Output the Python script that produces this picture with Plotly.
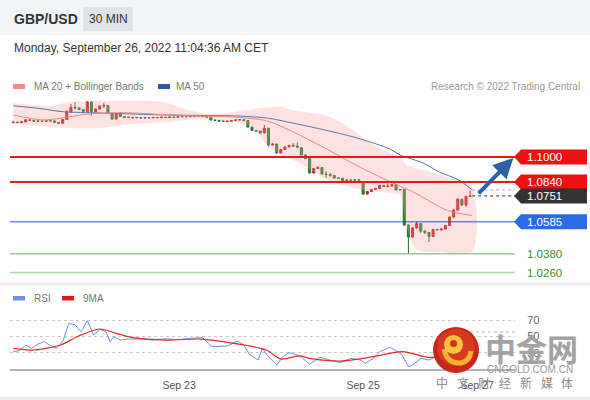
import plotly.graph_objects as go

W, H = 590, 400

# GBP/USD 30 min bars, index 0..111
opens = [1.1221, 1.1223, 1.1220, 1.1225, 1.1238, 1.1235, 1.1229, 1.1230, 1.1228, 1.1233,
         1.1231, 1.1221, 1.1216, 1.1240, 1.1288, 1.1317, 1.1314, 1.1304, 1.1291, 1.1352,
         1.1291, 1.1307, 1.1326, 1.1330, 1.1278, 1.1243, 1.1278, 1.1259, 1.1253, 1.1254,
         1.1251, 1.1253, 1.1250, 1.1252, 1.1251, 1.1253, 1.1252, 1.1255, 1.1253, 1.1256,
         1.1254, 1.1257, 1.1259, 1.1258, 1.1261, 1.1262, 1.1264, 1.1261, 1.1256, 1.1237,
         1.1234, 1.1230, 1.1227, 1.1229, 1.1234, 1.1237, 1.1239, 1.1233, 1.1192, 1.1170,
         1.1166, 1.1154, 1.1184, 1.1077, 1.1083, 1.1026, 1.1048, 1.1064, 1.1074, 1.1070,
         1.1061, 1.1013, 1.0990, 1.0898, 1.0926, 1.0933, 1.0891, 1.0888, 1.0882, 1.0866,
         1.0864, 1.0850, 1.0853, 1.0851, 1.0854, 1.0840, 1.0763, 1.0779, 1.0792, 1.0798,
         1.0818, 1.0811, 1.0814, 1.0824, 1.0789, 1.0792, 1.0565, 1.0488, 1.0546, 1.0574,
         1.0526, 1.0517, 1.0491, 1.0536, 1.0533, 1.0539, 1.0562, 1.0616, 1.0660, 1.0730,
         1.0693, 1.0748]
highs = [1.1227, 1.1226, 1.1228, 1.1243, 1.1241, 1.1238, 1.1233, 1.1233, 1.1236, 1.1235,
         1.1234, 1.1224, 1.1243, 1.1301, 1.1339, 1.1352, 1.1318, 1.1307, 1.1358, 1.1356,
         1.1311, 1.1330, 1.1346, 1.1333, 1.1281, 1.1283, 1.1288, 1.1262, 1.1257, 1.1257,
         1.1256, 1.1255, 1.1255, 1.1254, 1.1256, 1.1255, 1.1258, 1.1257, 1.1259, 1.1258,
         1.1260, 1.1262, 1.1261, 1.1264, 1.1265, 1.1267, 1.1266, 1.1263, 1.1258, 1.1239,
         1.1236, 1.1233, 1.1232, 1.1236, 1.1240, 1.1242, 1.1241, 1.1236, 1.1195, 1.1172,
         1.1168, 1.1205, 1.1187, 1.1088, 1.1086, 1.1052, 1.1067, 1.1078, 1.1090, 1.1093,
         1.1064, 1.1016, 1.0993, 1.0930, 1.0942, 1.0936, 1.0910, 1.0897, 1.0884, 1.0868,
         1.0866, 1.0856, 1.0855, 1.0857, 1.0856, 1.0843, 1.0782, 1.0796, 1.0803, 1.0822,
         1.0821, 1.0830, 1.0827, 1.0827, 1.0795, 1.0795, 1.0569, 1.0550, 1.0590, 1.0577,
         1.0530, 1.0520, 1.0540, 1.0540, 1.0542, 1.0565, 1.0620, 1.0668, 1.0738, 1.0733,
         1.0752, 1.0786]
lows = [1.1216, 1.1217, 1.1218, 1.1221, 1.1232, 1.1226, 1.1227, 1.1225, 1.1226, 1.1228,
        1.1218, 1.1213, 1.1213, 1.1237, 1.1284, 1.1307, 1.1300, 1.1287, 1.1288, 1.1266,
        1.1286, 1.1304, 1.1314, 1.1275, 1.1238, 1.1240, 1.1255, 1.1250, 1.1250, 1.1248,
        1.1249, 1.1247, 1.1248, 1.1248, 1.1249, 1.1249, 1.1250, 1.1251, 1.1251, 1.1252,
        1.1252, 1.1255, 1.1255, 1.1256, 1.1259, 1.1260, 1.1259, 1.1253, 1.1234, 1.1231,
        1.1228, 1.1224, 1.1225, 1.1227, 1.1232, 1.1235, 1.1231, 1.1189, 1.1166, 1.1162,
        1.1150, 1.1151, 1.1067, 1.1074, 1.1022, 1.1023, 1.1045, 1.1061, 1.1066, 1.1055,
        1.1010, 1.0986, 1.0894, 1.0895, 1.0923, 1.0888, 1.0866, 1.0872, 1.0862, 1.0860,
        1.0847, 1.0848, 1.0848, 1.0850, 1.0847, 1.0757, 1.0760, 1.0776, 1.0789, 1.0795,
        1.0808, 1.0806, 1.0811, 1.0786, 1.0787, 1.0558, 1.0382, 1.0485, 1.0542, 1.0514,
        1.0507, 1.0456, 1.0488, 1.0530, 1.0530, 1.0536, 1.0559, 1.0610, 1.0655, 1.0688,
        1.0680, 1.0745]
closes = [1.1223, 1.1220, 1.1225, 1.1238, 1.1235, 1.1229, 1.1230, 1.1228, 1.1233, 1.1231,
          1.1221, 1.1216, 1.1240, 1.1288, 1.1317, 1.1314, 1.1304, 1.1291, 1.1352, 1.1291,
          1.1307, 1.1326, 1.1330, 1.1278, 1.1243, 1.1278, 1.1259, 1.1253, 1.1254, 1.1251,
          1.1253, 1.1250, 1.1252, 1.1251, 1.1253, 1.1252, 1.1255, 1.1253, 1.1256, 1.1254,
          1.1257, 1.1259, 1.1258, 1.1261, 1.1262, 1.1264, 1.1261, 1.1256, 1.1237, 1.1234,
          1.1230, 1.1227, 1.1229, 1.1234, 1.1237, 1.1239, 1.1233, 1.1192, 1.1170, 1.1166,
          1.1154, 1.1184, 1.1077, 1.1083, 1.1026, 1.1048, 1.1064, 1.1074, 1.1070, 1.1064,
          1.1013, 1.0990, 1.0898, 1.0926, 1.0933, 1.0891, 1.0888, 1.0882, 1.0866, 1.0864,
          1.0850, 1.0853, 1.0851, 1.0854, 1.0850, 1.0763, 1.0779, 1.0792, 1.0798, 1.0818,
          1.0811, 1.0814, 1.0824, 1.0789, 1.0792, 1.0565, 1.0488, 1.0546, 1.0574, 1.0526,
          1.0517, 1.0491, 1.0536, 1.0533, 1.0539, 1.0562, 1.0616, 1.0660, 1.0730, 1.0693,
          1.0748, 1.0751]
bars = list(range(len(closes)))

# moving averages and bands, read at sample positions (bar index)
ma50_idx = [0, 6.5, 12, 21, 33, 45, 55, 62, 67, 75, 83.5, 91.5, 94, 99.5, 103.5, 108, 111.5]
ma50_val = [1.1328, 1.1310, 1.1290, 1.1282, 1.1272, 1.1266, 1.1262, 1.1248, 1.1222, 1.1177,
            1.1122, 1.1051, 1.1013, 1.0962, 1.0904, 1.0856, 1.0789]
ma20_idx = [0, 7, 12, 18, 23.5, 29, 37.5, 45.5, 53.5, 61.5, 67.5, 75.5, 83.5, 91.5, 97, 105.5, 111.5]
ma20_val = [1.1269, 1.1237, 1.1250, 1.1275, 1.1282, 1.1282, 1.1269, 1.1262, 1.1256, 1.1232,
            1.1167, 1.1060, 1.0945, 1.0842, 1.0778, 1.0658, 1.0626]
bb_up_idx = [0, 5, 9.5, 13, 21, 33, 37.5, 41, 45.5, 50, 55, 60, 65.5, 67.5, 75.5, 79.5, 83.5,
             87.5, 91.5, 94, 95.5, 99.5, 103.5, 108, 111.5]
bb_up = [1.1344, 1.1333, 1.1326, 1.1349, 1.1358, 1.1358, 1.1346, 1.1314, 1.1282, 1.1275,
         1.1294, 1.1314, 1.1320, 1.1301, 1.1269, 1.1224, 1.1154, 1.1077, 1.1026, 1.1000,
         1.0950, 1.0917, 1.0885, 1.0853, 1.0808]
bb_lo_idx = [0, 6.5, 13, 21, 29, 37.5, 45.5, 53.5, 57.5, 63, 69.5, 77.5, 85, 91.5, 94, 95.5,
             98, 103.5, 111.5]
bb_lo = [1.1211, 1.1198, 1.1186, 1.1186, 1.1211, 1.1224, 1.1243, 1.1224, 1.1198, 1.1045,
         1.0962, 1.0840, 1.0789, 1.0770, 1.0757, 1.0565, 1.0405, 1.0392, 1.0392]

# RSI panel
rsi_idx = [0, 1.5, 3, 4.5, 6, 7.5, 9.5, 10.5, 12, 13.5, 15, 16.5, 18, 19.5, 21, 22.5, 23.5,
           24.5, 26, 27.5, 31, 34, 37, 40, 43, 46, 48, 49.5, 52, 54.5, 56, 57.5, 59.5, 60.5,
           62, 64, 65.5, 67, 69, 70, 72, 74.5, 77, 79.5, 82, 84.5, 85.5, 87.5, 89, 91.5,
           93.5, 94.5, 96, 97, 99, 101, 103, 105, 107, 109, 111]
rsi_val = [31.2, 32.4, 39.4, 35.4, 40.6, 43.5, 37.3, 35.4, 43.5, 66, 63.9, 55.7, 69.1, 51.7,
           58.6, 55.7, 43.5, 49.6, 45.5, 46.4, 47, 45.5, 47, 46, 47.5, 48.5, 38.2, 37.6, 38.2,
           44.3, 39.4, 27.2, 21.1, 35.4, 25.1, 15, 25.1, 30, 27.2, 24.4, 16.2, 24.4, 21, 17.8,
           23.1, 21, 17, 23.1, 31.2, 36.6, 31.2, 27.2, 12.9, 15, 23.1, 21, 26, 33, 42, 50, 55.3]
ma9_idx = [0, 5, 11.5, 15.5, 21, 25, 29, 37.5, 45.5, 53.5, 61.5, 65, 69.5, 72, 79.5, 87.5,
           94.5, 101, 106, 111]
ma9_val = [35.4, 33.3, 39.4, 49.6, 59, 53.7, 48.4, 45.5, 46.7, 41.5, 33.3, 22.3, 26, 23.1,
           19.8, 25.1, 31.2, 24.4, 28, 38]
rsi_ticks = [30, 50, 70]

date_ticks = [40.3, 85.0, 112.7]
date_labels = ['Sep 23', 'Sep 25', 'Sep 27']

# key levels on the right
levels = [1.1000, 1.0840, 1.0751, 1.0585, 1.0380, 1.0260]
level_box = ['#ee1111', '#ee1111', '#333333', '#2b6ce6', None, None]
level_line = ['#e8191b', '#e8191b', None, '#2452c4', '#6aab6a', '#a9dca9']
level_width = [2, 2, 0, 1, 1, 1.5]
arrow_from = (112.7, 1.0757)
arrow_to = (121.5, 1.0994)


def px(x):
    return x / W


def py(y):
    return 1 - y / H


FONT = 'Liberation Sans, Arial, sans-serif'
CJK = 'Noto Sans CJK SC'

fig = go.Figure()

fig.add_trace(go.Scatter(
    x=bb_up_idx + bb_lo_idx[::-1], y=bb_up + bb_lo[::-1],
    fill='toself', fillcolor='rgba(248,160,160,0.3)', mode='lines',
    line=dict(width=0, shape='spline', smoothing=0.8), hoverinfo='skip'))
fig.add_trace(go.Scatter(x=ma50_idx, y=ma50_val, mode='lines',
                         line=dict(color='#5a74ad', width=1, shape='spline', smoothing=0.8)))
fig.add_trace(go.Scatter(x=ma20_idx, y=ma20_val, mode='lines',
                         line=dict(color='#f08585', width=1, shape='spline', smoothing=0.8)))
fig.add_trace(go.Candlestick(
    x=bars, open=opens, high=highs, low=lows, close=closes,
    increasing=dict(fillcolor='#e02424', line=dict(color='#b51c1c', width=1)),
    decreasing=dict(fillcolor='#2e8b3a', line=dict(color='#236f2c', width=1)),
    whiskerwidth=0))

fig.add_trace(go.Scatter(x=rsi_idx, y=rsi_val, mode='lines', xaxis='x2', yaxis='y2',
                         line=dict(color='#6f8fe2', width=1)))
fig.add_trace(go.Scatter(x=ma9_idx, y=ma9_val, mode='lines', xaxis='x2', yaxis='y2',
                         line=dict(color='#e02a2a', width=1.2, shape='spline', smoothing=0.8)))

shapes = []
ann = []

# header
shapes.append(dict(type='rect', xref='paper', yref='paper', x0=0, x1=1, y0=py(35), y1=1,
                   fillcolor='#f3f4f6', line=dict(width=0), layer='below'))
shapes.append(dict(type='rect', xref='paper', yref='paper', x0=px(83), x1=px(133),
                   y0=py(31), y1=py(7), fillcolor='#dfe2e6', line=dict(width=0)))
ann.append(dict(text='<b>GBP/USD</b>', x=px(12), y=py(19), xanchor='left',
                font=dict(size=14, color='#333333')))
ann.append(dict(text='30 MIN', x=px(108), y=py(19), xanchor='center',
                font=dict(size=12, color='#333333')))
ann.append(dict(text='Monday, September 26, 2022 11:04:36 AM CET', x=px(12), y=py(48),
                xanchor='left', font=dict(size=12, color='#333333')))

# legends
shapes.append(dict(type='rect', xref='paper', yref='paper', x0=px(13), x1=px(25),
                   y0=py(89), y1=py(84), fillcolor='#f28d8d', line=dict(width=0)))
shapes.append(dict(type='rect', xref='paper', yref='paper', x0=px(158), x1=px(170),
                   y0=py(89), y1=py(84), fillcolor='#2f55a0', line=dict(width=0)))
ann.append(dict(text='MA 20 + Bollinger Bands', x=px(32), y=py(86.5), xanchor='left',
                font=dict(size=10, color='#777777')))
ann.append(dict(text='MA 50', x=px(174), y=py(86.5), xanchor='left',
                font=dict(size=10, color='#777777')))
ann.append(dict(text='Research © 2022 Trading Central', x=px(582), y=py(86.5), xanchor='right',
                font=dict(size=10, color='#999999')))
shapes.append(dict(type='rect', xref='paper', yref='paper', x0=px(13), x1=px(25),
                   y0=py(300.5), y1=py(296), fillcolor='#6f8fe2', line=dict(width=0)))
shapes.append(dict(type='rect', xref='paper', yref='paper', x0=px(62), x1=px(74),
                   y0=py(300.5), y1=py(296), fillcolor='#e8141b', line=dict(width=0)))
ann.append(dict(text='RSI', x=px(32), y=py(298.5), xanchor='left',
                font=dict(size=10, color='#777777')))
ann.append(dict(text='9MA', x=px(81), y=py(298.5), xanchor='left',
                font=dict(size=10, color='#777777')))

# separators
shapes.append(dict(type='rect', xref='paper', yref='paper', x0=0, x1=1, y0=py(285.5),
                   y1=py(282.5), fillcolor='#ececec', line=dict(width=0)))
shapes.append(dict(type='rect', xref='paper', yref='paper', x0=0, x1=1, y0=0,
                   y1=py(396.5), fillcolor='#ececec', line=dict(width=0)))

# level lines and labels
half = 7.5 * 0.00064
for lv, box, lc, lw in zip(levels, level_box, level_line, level_width):
    if lc:
        shapes.append(dict(type='line', xref='x domain', yref='y', x0=0, x1=1, y0=lv, y1=lv,
                           line=dict(color=lc, width=lw)))
    if box:
        path = (f'M {px(514)},{lv} L {px(521)},{lv + half} L {px(587)},{lv + half} '
                f'L {px(587)},{lv - half} L {px(521)},{lv - half} Z')
        shapes.append(dict(type='path', xref='paper', yref='y', path=path,
                           fillcolor=box, line=dict(width=0)))
        ann.append(dict(text=f'{lv:.4f}', x=px(525), y=lv, yref='y', xanchor='left',
                        font=dict(size=11.5, color='white')))
    else:
        ann.append(dict(text=f'{lv:.4f}', x=px(525), y=lv, yref='y', xanchor='left',
                        font=dict(size=11.5, color='#2f8f2f')))

# dotted guides from the last bar
shapes.append(dict(type='line', xref='x', yref='y', x0=bars[-1] + 0.5, x1=121.9,
                   y0=ma50_val[-1], y1=ma50_val[-1], line=dict(color='#9aa8c8', width=1, dash='dot')))
shapes.append(dict(type='line', xref='x', yref='y', x0=bars[-1] + 0.5, x1=121.9,
                   y0=closes[-1], y1=closes[-1], line=dict(color='#333333', width=1, dash='dot')))
shapes.append(dict(type='line', xref='x2', yref='y2', x0=rsi_idx[-1], x1=121.9,
                   y0=rsi_val[-1], y1=rsi_val[-1], line=dict(color='#9fb0dc', width=1, dash='dot')))

# forecast arrow
ann.append(dict(x=arrow_to[0], y=arrow_to[1], xref='x', yref='y', ax=arrow_from[0],
                ay=arrow_from[1], axref='x', ayref='y', text='', showarrow=True,
                arrowhead=2, arrowsize=1, arrowwidth=4, arrowcolor='#2e62a6'))

# cngold watermark
cx, cy = px(456), py(350)
shapes.append(dict(type='circle', xref='paper', yref='paper', xsizemode='pixel',
                   ysizemode='pixel', xanchor=cx, yanchor=cy, x0=-23, x1=23, y0=-23, y1=23,
                   fillcolor='#c8281a', line=dict(width=0)))
shapes.append(dict(type='circle', xref='paper', yref='paper', xsizemode='pixel',
                   ysizemode='pixel', xanchor=cx, yanchor=cy, x0=-19, x1=19, y0=-16, y1=21,
                   fillcolor='#d9391e', line=dict(width=0)))
shapes.append(dict(type='path', xref='paper', yref='paper', xsizemode='pixel',
                   ysizemode='pixel', xanchor=cx, yanchor=cy,
                   path='M -12,1 Q -9,-14 5,-13 Q 14,-11 15,-1',
                   line=dict(color='#f5b335', width=5)))
shapes.append(dict(type='circle', xref='paper', yref='paper', xsizemode='pixel',
                   ysizemode='pixel', xanchor=cx, yanchor=cy, x0=-12, x1=7, y0=-4, y1=15,
                   fillcolor='#f8c242', line=dict(width=0)))
shapes.append(dict(type='circle', xref='paper', yref='paper', xsizemode='pixel',
                   ysizemode='pixel', xanchor=cx, yanchor=cy, x0=-6, x1=1, y0=3, y1=10,
                   fillcolor='#d3321d', line=dict(width=0)))
ann.append(dict(text='中金网', x=px(531), y=py(347), xanchor='center',
                font=dict(size=31, color='#a3a3a3', family=CJK, weight='bold')))
ann.append(dict(text='CNGOLD.COM.CN', x=px(530), y=py(369), xanchor='center',
                font=dict(size=10, color='#9a9a9a')))
for k, ch in enumerate('中文财经新媒体'):
    ann.append(dict(text=ch, x=px(442 + k * 20.9), y=py(382), xanchor='center',
                    font=dict(size=12, color='#8d8d8d', family=CJK)))

for a in ann:
    a.setdefault('xref', 'paper')
    a.setdefault('yref', 'paper')
    a.setdefault('showarrow', False)
    a.setdefault('yanchor', 'middle')

fig.update_layout(
    width=W, height=H, margin=dict(l=0, r=0, t=0, b=0),
    paper_bgcolor='white', plot_bgcolor='white', showlegend=False,
    font=dict(family=FONT),
    xaxis=dict(domain=[px(10), px(515)], range=[-0.8, 121.9], visible=False,
               rangeslider=dict(visible=False), anchor='y'),
    yaxis=dict(domain=[py(280), py(95)], range=[1.02128, 1.13968], visible=False, anchor='x'),
    xaxis2=dict(domain=[px(10), px(515)], range=[-0.8, 121.9], anchor='y2',
                showline=True, linecolor='#b3b3b3', linewidth=2, showgrid=False,
                zeroline=False, tickmode='array', tickvals=date_ticks, ticktext=date_labels,
                ticks='outside', ticklen=5, tickcolor='rgba(0,0,0,0)',
                tickfont=dict(size=10.5, color='#555555')),
    yaxis2=dict(domain=[py(369), py(305)], range=[10.06, 88.35], anchor='x2', side='right',
                tickmode='array', tickvals=rsi_ticks, showgrid=True, gridcolor='#c8c8c8',
                griddash='dot', gridwidth=1, zeroline=False, ticks='outside', ticklen=9,
                tickcolor='rgba(0,0,0,0)', tickfont=dict(size=11, color='#666666')),
    shapes=shapes, annotations=ann,
)

fig.write_html('out.html', config={'displayModeBar': False},
               post_script=["document.body.style.margin = '0';"])
